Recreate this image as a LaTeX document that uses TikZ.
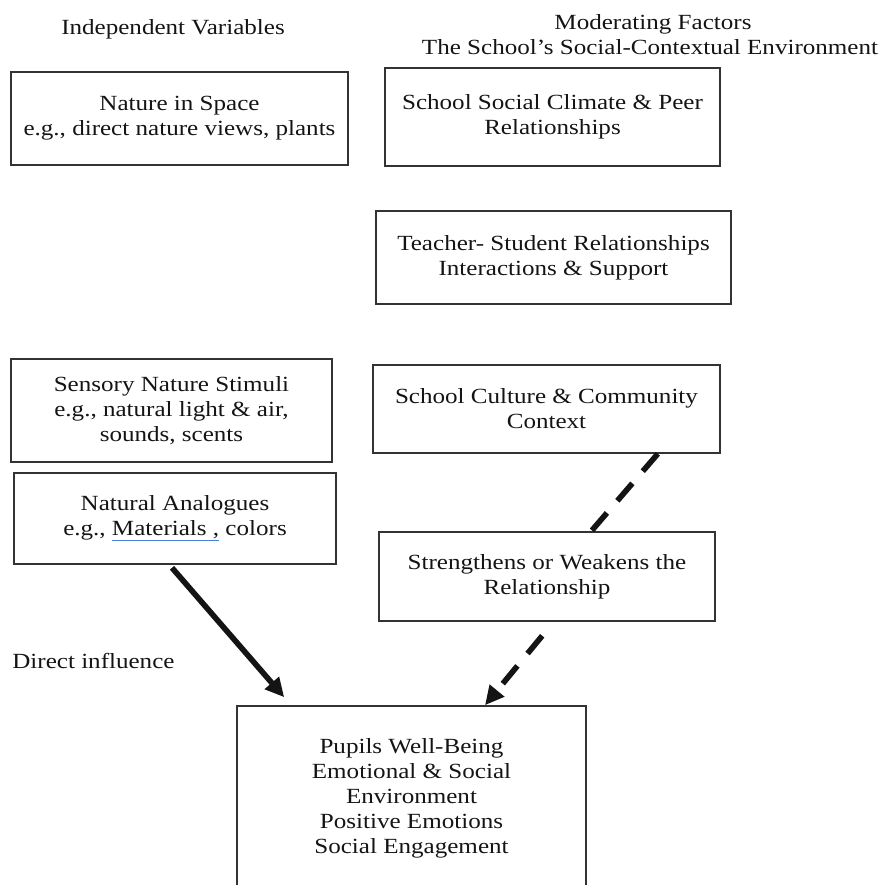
\documentclass[tikz,border=0pt]{standalone}
\usepackage{fontspec}
\setmainfont{Liberation Serif}[FakeStretch=1.16]
\usepackage{xcolor}
\definecolor{InkBlack}{HTML}{141414}
\definecolor{EdgeGray}{HTML}{333333}
\definecolor{SpellBlue}{HTML}{4a7fd6}
\usetikzlibrary{arrows.meta,positioning,calc}
\newcommand{\spellmark}[1]{\textcolor{SpellBlue}{\underline{\textcolor{InkBlack}{#1}}}}

\begin{document}
\begin{tikzpicture}[
        box/.style={draw=EdgeGray,line width=0.9pt,text=InkBlack,
                    font=\fontsize{12.3}{14.2}\selectfont,
                    inner sep=2pt,align=center},
        head/.style={text=InkBlack,font=\fontsize{12.3}{14.2}\selectfont,
                     inner sep=0pt},
        link/.style={line width=3.2pt,InkBlack,
                     -{Triangle[length=0.38cm,width=0.36cm]}},
        modlink/.style={line width=3.2pt,InkBlack,
                        dash pattern=on 0.46cm off 0.32cm}]
        \useasboundingbox (0,0) rectangle (17.72,-17.70);
        \clip (0,0) rectangle (17.72,-17.70);

        % column headings
        \node[head,anchor=base] (indep) at (3.46,-0.70) {Independent Variables};
        \node[head,anchor=base] (modTitle) at (13.06,-0.60) {Moderating Factors};
        \node[head,anchor=base] (modSub) at (13.00,-1.10)
              {The School’s Social-Contextual Environment};

        % independent variables (left)
        \node[box,minimum width=6.74cm,minimum height=1.86cm] (nature) at (3.59,-2.37)
              {Nature in Space\\e.g., direct nature views, plants};
        \node[box,minimum width=6.42cm,minimum height=2.06cm] (sensory) at (3.43,-8.21)
              {Sensory Nature Stimuli\\e.g., natural light \& air,\\sounds, scents};
        \node[box,minimum width=6.44cm,minimum height=1.82cm] (analog) at (3.50,-10.37)
              {Natural Analogues\\e.g., \spellmark{Materials ,} colors};

        % moderating factors (right)
        \node[box,minimum width=6.70cm,minimum height=1.96cm] (climate) at (11.05,-2.34)
              {School Social Climate \& Peer\\Relationships};
        \node[box,minimum width=7.10cm,minimum height=1.86cm] (teacher) at (11.07,-5.15)
              {Teacher- Student Relationships\\Interactions \& Support};
        \node[box,minimum width=6.94cm,minimum height=1.76cm] (culture) at (10.93,-8.18)
              {School Culture \& Community\\Context};
        \node[box,minimum width=6.72cm,minimum height=1.78cm] (strength) at (10.94,-11.53)
              {Strengthens or Weakens the\\Relationship};

        % outcome
        \node[box,minimum width=6.98cm,minimum height=3.68cm] (pupils) at (8.23,-15.96)
              {Pupils Well-Being\\Emotional \& Social\\Environment\\Positive Emotions\\Social Engagement};

        \node[head,anchor=base west] (direct) at (0.24,-13.36) {Direct influence};

        % connectors
        \draw[link] ($(analog.south)+(-0.06,-0.06)$) -- ($(pupils.north west)+(0.96,0.16)$);
        \draw[modlink] ($(culture.south east)+(-1.26,0)$) -- ($(strength.north west)+(4.26,0)$);
        \draw[modlink,-{Triangle[length=0.38cm,width=0.36cm]}]
          ($(strength.south west)+(3.28,-0.28)$) -- ($(pupils.north)+(1.47,0)$);
\end{tikzpicture}
\end{document}
